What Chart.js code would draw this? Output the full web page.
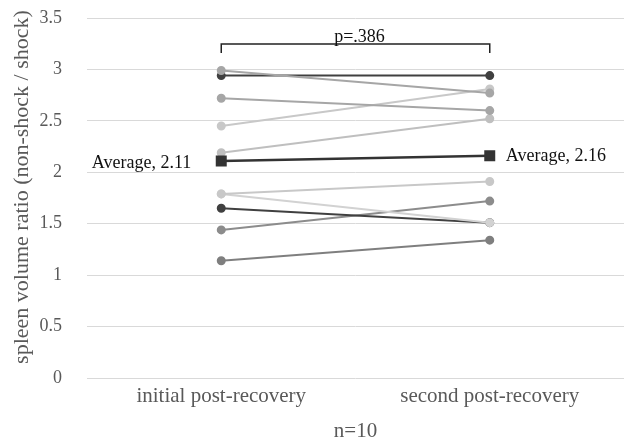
<!DOCTYPE html>
<html>
<head>
<meta charset="utf-8">
<script src="https://cdn.jsdelivr.net/npm/chart.js@4/dist/chart.umd.min.js"></script>
<style>
  html, body { margin: 0; padding: 0; background: #fff; }
  #wrap { width: 624px; height: 442px; }
</style>
</head>
<body>
<div id="wrap"><canvas id="chart" width="624" height="442"></canvas></div>
<script>
// data
const categories = ['initial post-recovery', 'second post-recovery'];
const initialValues = [2.99, 2.94, 2.72, 2.45, 2.19, 1.79, 1.79, 1.65, 1.44, 1.14];
const secondValues  = [2.77, 2.94, 2.60, 2.81, 2.52, 1.91, 1.51, 1.51, 1.72, 1.34];
const averageValues = [2.11, 2.16];
const averageLabel = 'Average';
const pValueText = 'p=.386';
const sampleText = 'n=10';
const yAxisTitle = 'spleen volume ratio (non-shock / shock)';
const yMin = 0;
const yMax = 3.5;
const yStep = 0.5;

// one grey per subject line
const subjectColors = ['#a6a6a6', '#404040', '#a6a6a6', '#c8c8c8', '#bfbfbf',
                       '#c8c8c8', '#d2d2d2', '#404040', '#8c8c8c', '#7f7f7f'];

const FONT = "'Liberation Serif', 'Times New Roman', serif";

const subjectSets = initialValues.map((v, i) => ({
    label: 'subject ' + (i + 1),
    data: [v, secondValues[i]],
    borderColor: subjectColors[i],
    backgroundColor: subjectColors[i],
    borderWidth: 2,
    pointRadius: 3.5,
    pointHoverRadius: 3.5,
    pointStyle: 'circle',
    order: 2
}));

const averageSet = {
    label: averageLabel,
    data: averageValues,
    borderColor: '#333333',
    backgroundColor: '#333333',
    borderWidth: 2.5,
    pointRadius: 6,
    pointHoverRadius: 6,
    pointStyle: 'rect',
    order: 1
};

// draws bracket, p value, average labels and axis titles
const annotations = {
    id: 'annotations',
    afterDatasetsDraw(chart) {
        const ctx = chart.ctx;
        const x = chart.scales.x;
        const y = chart.scales.y;
        const area = chart.chartArea;
        const x0 = x.getPixelForValue(0);
        const x1 = x.getPixelForValue(1);

        ctx.save();

        // significance bracket
        const by = area.top + 26;
        ctx.strokeStyle = '#222';
        ctx.lineWidth = 1.5;
        ctx.beginPath();
        ctx.moveTo(x0, by + 9);
        ctx.lineTo(x0, by);
        ctx.lineTo(x1, by);
        ctx.lineTo(x1, by + 9);
        ctx.stroke();

        ctx.fillStyle = '#111';
        ctx.font = '18px ' + FONT;
        ctx.textAlign = 'center';
        ctx.textBaseline = 'alphabetic';
        ctx.fillText(pValueText, (x0 + x1) / 2 + 4, by - 2);

        // average data labels
        ctx.font = '18px ' + FONT;
        ctx.textBaseline = 'middle';
        ctx.textAlign = 'right';
        ctx.fillText(averageLabel + ', ' + averageValues[0].toFixed(2), x0 - 30, y.getPixelForValue(averageValues[0]) + 2);
        ctx.textAlign = 'left';
        ctx.fillText(averageLabel + ', ' + averageValues[1].toFixed(2), x1 + 16, y.getPixelForValue(averageValues[1]));

        // axis titles
        ctx.fillStyle = '#595959';
        ctx.font = '21px ' + FONT;
        ctx.textAlign = 'center';
        ctx.textBaseline = 'middle';
        ctx.fillText(sampleText, (area.left + area.right) / 2, 431);

        ctx.font = '22px ' + FONT;
        ctx.translate(22, 187);
        ctx.rotate(-Math.PI / 2);
        ctx.fillText(yAxisTitle, 0, 0);

        ctx.restore();
    }
};

function noScalePadding(scale) {
    scale.paddingTop = 0;
    scale.paddingBottom = 0;
    scale.paddingLeft = 0;
    scale.paddingRight = 0;
}

new Chart(document.getElementById('chart'), {
    type: 'line',
    data: {
        labels: categories,
        datasets: [averageSet, ...subjectSets]
    },
    options: {
        responsive: false,
        animation: false,
        events: [],
        layout: { autoPadding: false, padding: { top: 18, right: 0, bottom: 0, left: 0 } },
        plugins: {
            legend: { display: false },
            tooltip: { enabled: false }
        },
        scales: {
            x: {
                offset: true,
                grid: { display: false, drawTicks: false },
                border: { display: false },
                ticks: {
                    color: '#595959',
                    font: { family: FONT, size: 21 },
                    padding: 6,
                    maxRotation: 0
                },
                afterFit(scale) {
                    scale.height = 64;
                    noScalePadding(scale);
                }
            },
            y: {
                min: yMin,
                max: yMax,
                grid: { color: '#d9d9d9', lineWidth: 1, drawTicks: false },
                border: { display: false },
                ticks: {
                    stepSize: yStep,
                    color: '#595959',
                    font: { family: FONT, size: 18 },
                    padding: 25,
                    callback: (value) => String(value)
                },
                afterFit(scale) {
                    scale.width = 87;
                    noScalePadding(scale);
                }
            }
        }
    },
    plugins: [annotations]
});
</script>
</body>
</html>
